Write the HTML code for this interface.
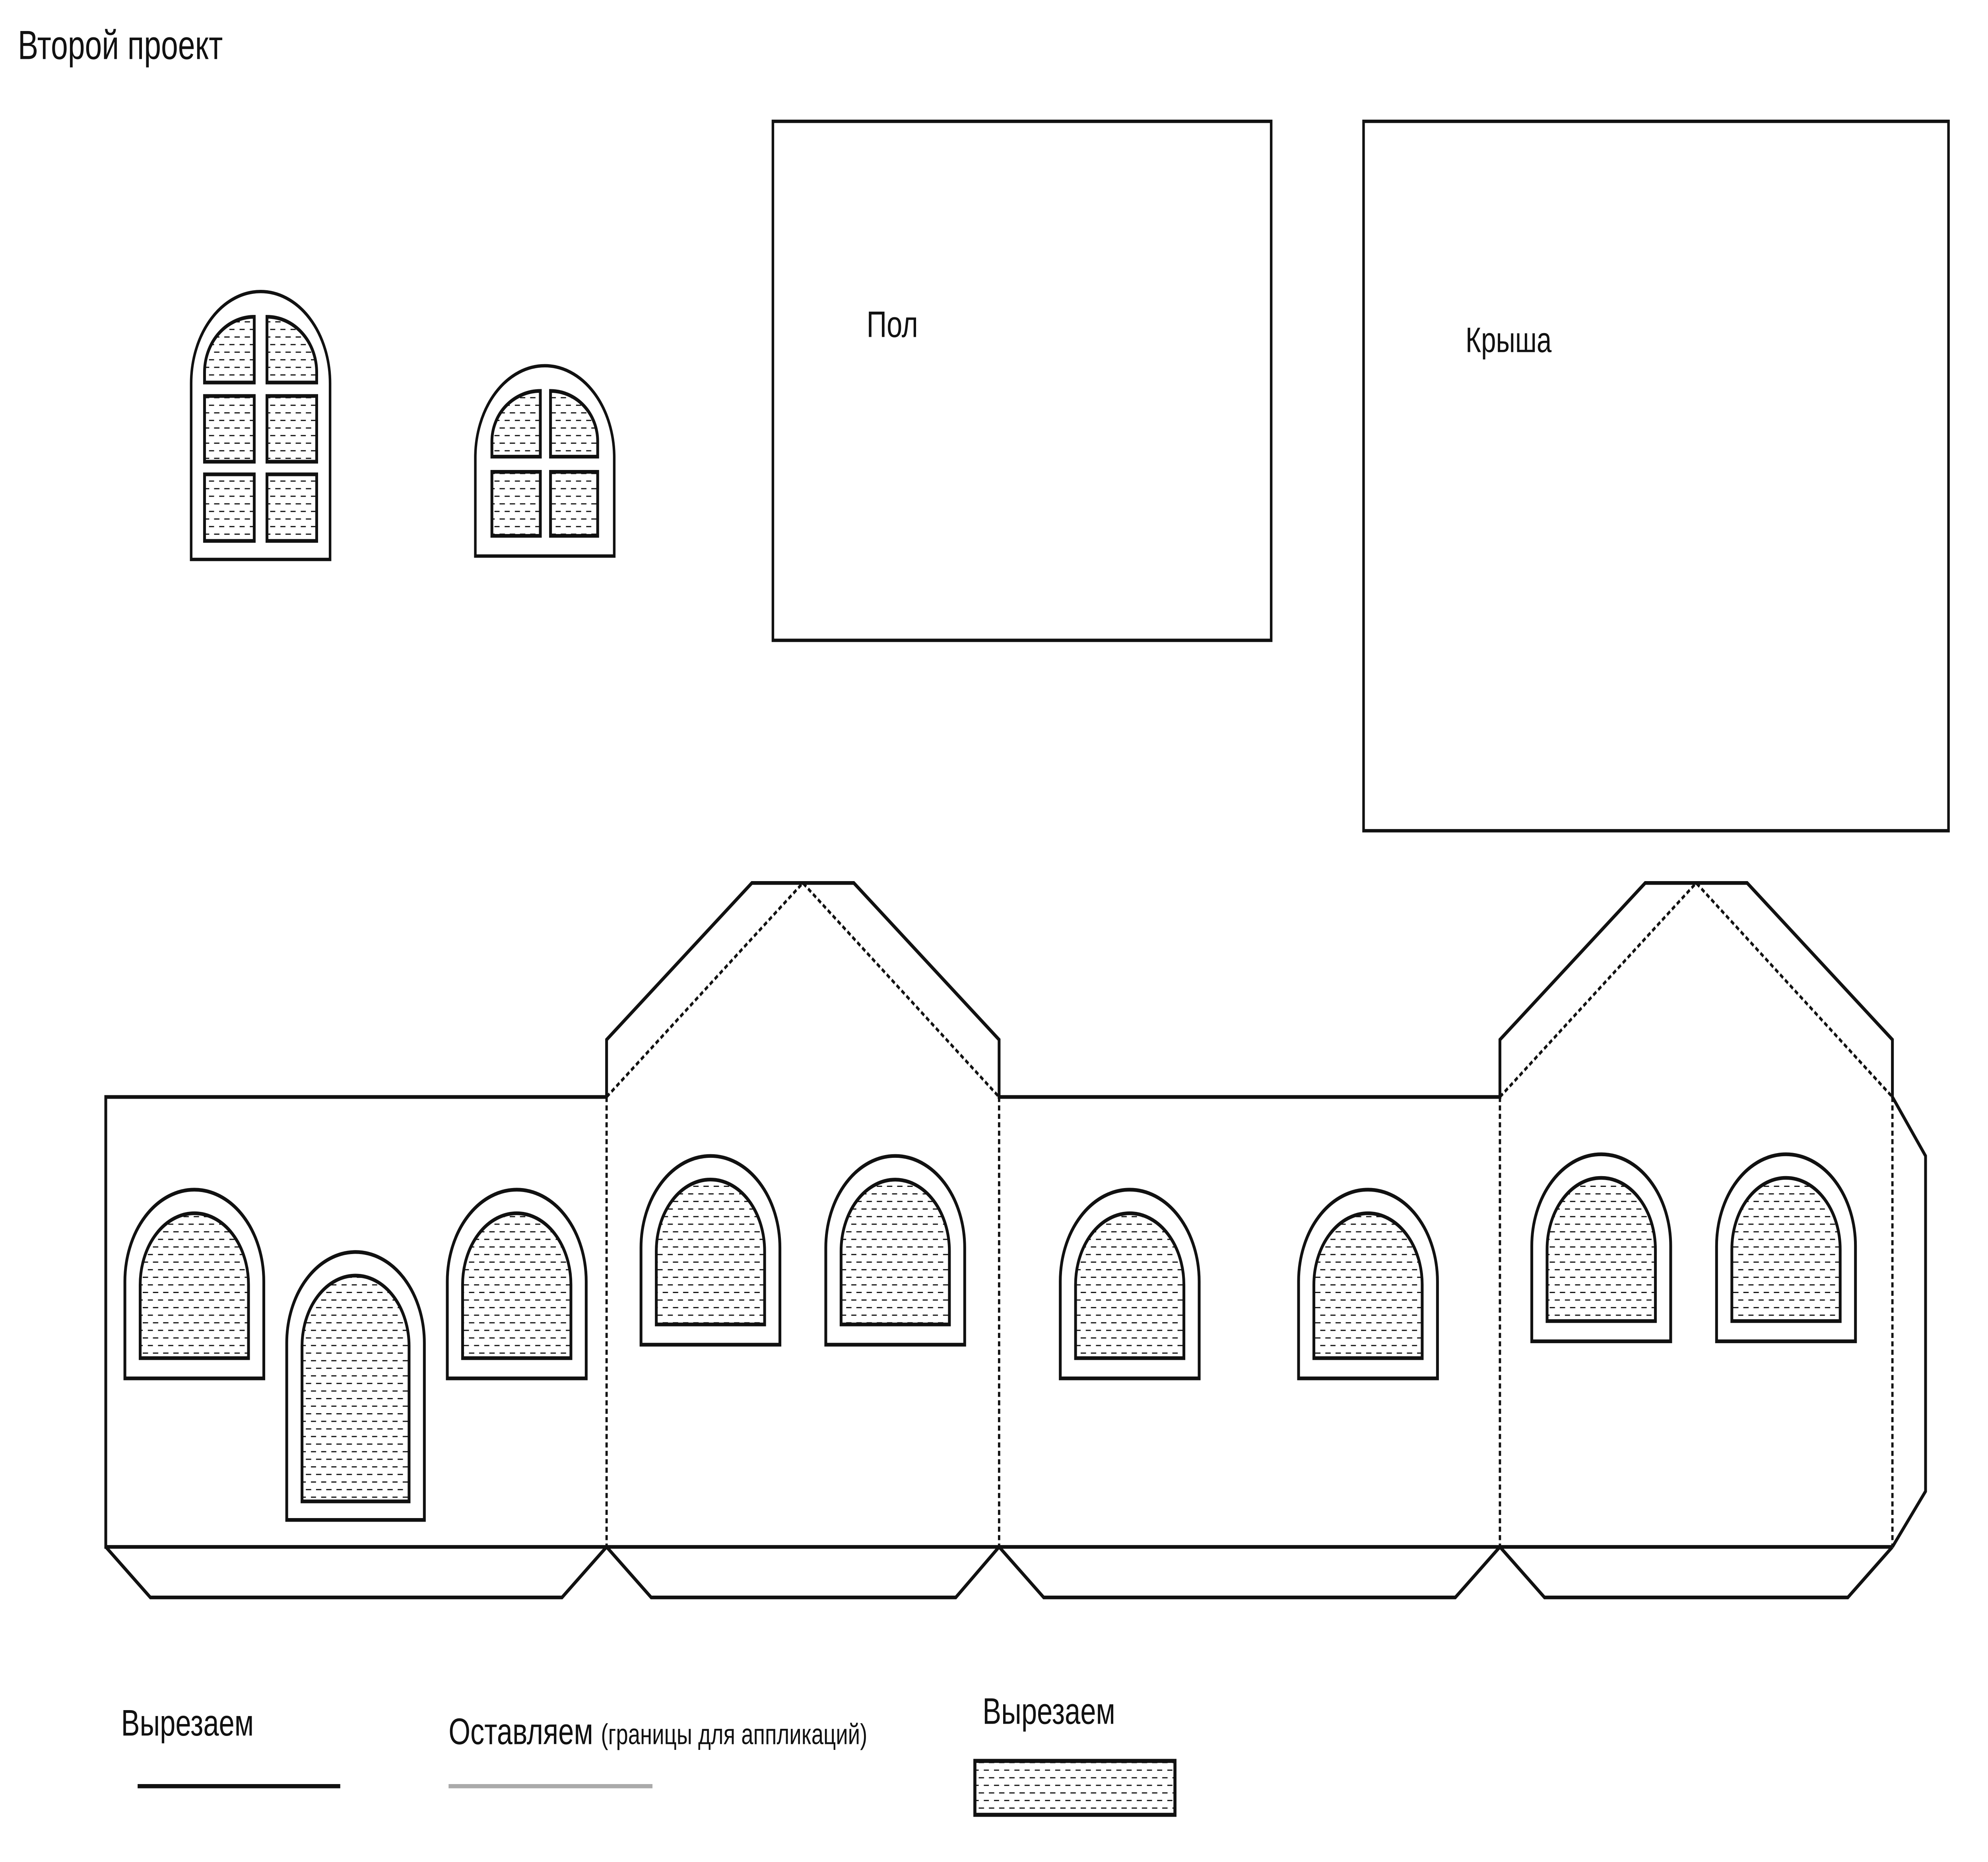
<!DOCTYPE html>
<html><head><meta charset="utf-8"><style>
html,body{margin:0;padding:0;background:#fff;overflow:hidden;width:100%;height:100%;}
svg{display:block;width:100vw;height:100vh;}
text{font-family:"Liberation Sans","Noto Sans CJK SC",sans-serif;fill:#111;}
</style></head><body>
<svg viewBox="0 0 1560 1105" preserveAspectRatio="none" xmlns="http://www.w3.org/2000/svg">
<defs>
<pattern id="h" patternUnits="userSpaceOnUse" width="8" height="9">
<rect width="8" height="9" fill="#fff"/>
<line x1="0" y1="2" x2="4.2" y2="2" stroke="#111" stroke-width="0.7"/>
<line x1="4" y1="6.5" x2="8" y2="6.5" stroke="#111" stroke-width="0.7"/>
</pattern>
</defs>
<rect width="1560" height="1105" fill="#fff"/>
<text x="14" y="35" font-size="24">Второй проект</text>

<g stroke="#111" fill="none">
<path d="M150,332 V227.5 A54.5,54.5 0 0 1 259,227.5 V332 Z" stroke-width="2"/>
<g fill="url(#h)" stroke-width="2.2">
<path d="M160.5,227 V221 A39,33 0 0 1 199.5,188 V227 Z"/>
<path d="M209.5,188 A39,33 0 0 1 248.5,221 V227 H209.5 Z"/>
<rect x="160.5" y="235" width="39" height="39"/>
<rect x="209.5" y="235" width="39" height="39"/>
<rect x="160.5" y="281.5" width="39" height="39.5"/>
<rect x="209.5" y="281.5" width="39" height="39.5"/>
</g>
<path d="M373,330 V271.5 A54.5,54.5 0 0 1 482,271.5 V330 Z" stroke-width="2"/>
<g fill="url(#h)" stroke-width="2.2">
<path d="M386,271 V262 A38,30 0 0 1 424,232 V271 Z"/>
<path d="M432,232 A37,30 0 0 1 469,262 V271 H432 Z"/>
<rect x="386" y="280" width="38" height="38"/>
<rect x="432" y="280" width="37" height="38"/>
</g>

<rect x="606.5" y="72" width="391" height="308" stroke-width="2"/>
<rect x="1070" y="72" width="459" height="421" stroke-width="2"/>
</g>
<text x="680" y="200" font-size="22">Пол</text>
<text x="1150" y="209" font-size="21">Крыша</text>

<g stroke="#111" fill="none" stroke-width="2.2" stroke-linejoin="miter">
<path d="M476,651 H83 V918 H1485"/>
<path d="M476,651 V617 L590,524 H670 L784,617 V651 H1177 V617 L1291,524 H1371 L1485,617 V651 L1511,686 V885 L1485,918"/>
<path d="M83,918 L118,948 H441 L476,918 L511,948 H750 L784,918 L819,948 H1142 L1177,918 L1212,948 H1450 L1485,918"/>
</g>
<g stroke="#111" fill="none" stroke-width="1.8" stroke-dasharray="3,2">
<path d="M476,651 L630,524 L784,651"/>
<path d="M1177,651 L1331,524 L1485,651"/>
<path d="M476,651 V918 M784,651 V918 M1177,651 V918 M1485,651 V918"/>
</g>

<g stroke="#111" stroke-width="2.2">
<g fill="#fff">
<path d="M98,818 V760.5 A54.5,54.5 0 0 1 207,760.5 V818 Z"/>
<path d="M225,902 V797 A54,54 0 0 1 333,797 V902 Z"/>
<path d="M351,818 V760.5 A54.5,54.5 0 0 1 460,760.5 V818 Z"/>
<path d="M503,798 V740.5 A54.5,54.5 0 0 1 612,740.5 V798 Z"/>
<path d="M648,798 V740.5 A54.5,54.5 0 0 1 757,740.5 V798 Z"/>
<path d="M832,818 V760.5 A54.5,54.5 0 0 1 941,760.5 V818 Z"/>
<path d="M1019,818 V760.5 A54.5,54.5 0 0 1 1128,760.5 V818 Z"/>
<path d="M1202,796 V739.5 A54.5,54.5 0 0 1 1311,739.5 V796 Z"/>
<path d="M1347,796 V739.5 A54.5,54.5 0 0 1 1456,739.5 V796 Z"/>
</g>
<g fill="url(#h)">
<path d="M110,806 V762.5 A42.5,42.5 0 0 1 195,762.5 V806 Z"/>
<path d="M237,891 V799 A42,42 0 0 1 321,799 V891 Z"/>
<path d="M363,806 V762.5 A42.5,42.5 0 0 1 448,762.5 V806 Z"/>
<path d="M515,786 V742.5 A42.5,42.5 0 0 1 600,742.5 V786 Z"/>
<path d="M660,786 V742.5 A42.5,42.5 0 0 1 745,742.5 V786 Z"/>
<path d="M844,806 V762.5 A42.5,42.5 0 0 1 929,762.5 V806 Z"/>
<path d="M1031,806 V762.5 A42.5,42.5 0 0 1 1116,762.5 V806 Z"/>
<path d="M1214,784 V741.5 A42.5,42.5 0 0 1 1299,741.5 V784 Z"/>
<path d="M1359,784 V741.5 A42.5,42.5 0 0 1 1444,741.5 V784 Z"/>
</g>
</g>

<text x="95" y="1030" font-size="22">Вырезаем</text>
<line x1="108" y1="1060" x2="267" y2="1060" stroke="#111" stroke-width="2.5"/>
<text x="352" y="1035" font-size="22">Оставляем <tspan font-size="17">(границы для аппликаций)</tspan></text>
<line x1="352" y1="1060" x2="512" y2="1060" stroke="#aaa" stroke-width="2.5"/>
<text x="771" y="1023" font-size="22">Вырезаем</text>
<rect x="765" y="1045" width="157" height="32" fill="url(#h)" stroke="#111" stroke-width="2.4"/>
</svg>
</body></html>
